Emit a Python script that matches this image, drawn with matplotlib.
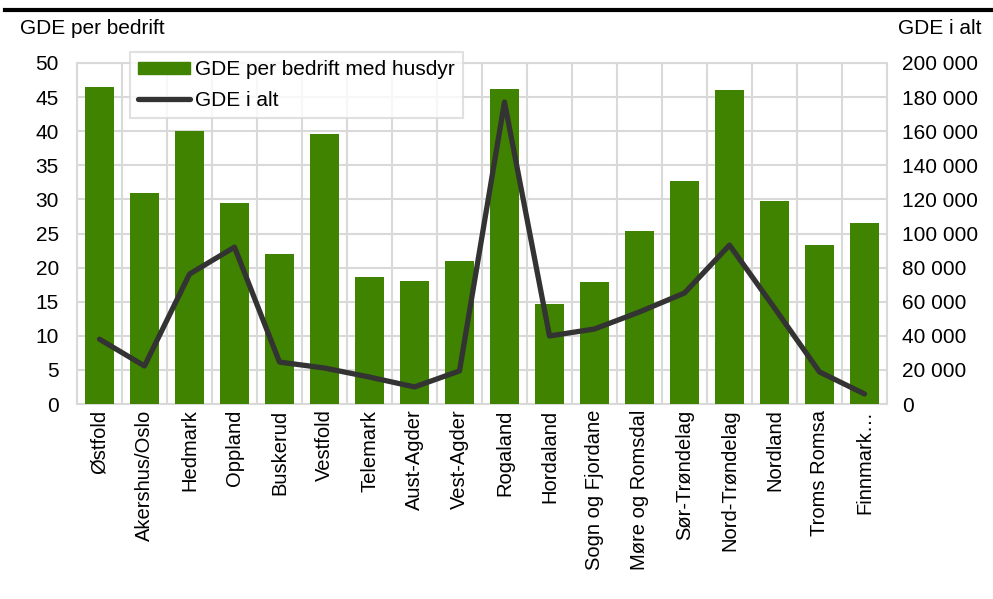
import matplotlib
matplotlib.use("Agg")
import matplotlib.pyplot as plt
from matplotlib.ticker import FuncFormatter
from matplotlib.lines import Line2D
from matplotlib.patches import Patch
import numpy as np

plt.rcParams['font.family'] = ['Liberation Sans', 'DejaVu Sans']

categories = ["Østfold", "Akershus/Oslo", "Hedmark", "Oppland", "Buskerud", "Vestfold",
              "Telemark", "Aust-Agder", "Vest-Agder", "Rogaland", "Hordaland",
              "Sogn og Fjordane", "Møre og Romsdal", "Sør-Trøndelag", "Nord-Trøndelag",
              "Nordland", "Troms Romsa", "Finnmark…"]
gde_per_bedrift = [46.5, 31.0, 40.1, 29.4, 22.0, 39.6, 18.6, 18.0, 21.0, 46.2, 14.7,
                   17.9, 25.3, 32.7, 46.0, 29.8, 23.3, 26.5]
gde_i_alt = [38000, 22300, 76200, 92000, 24600, 21100, 15800, 10000, 19400, 177100,
             39900, 44000, 54000, 65100, 93200, 56300, 18800, 5900]

green = "#3F8300"
dark = "#333333"
grid = "#D9D9D9"
fs = 15

fig = plt.figure(figsize=(9.93, 5.99), dpi=100)
ax = fig.add_axes([77/993, 1-404/599, 810/993, 341/599])
x = np.arange(len(categories))
ax.bar(x, gde_per_bedrift, width=0.66, color=green, zorder=3)
ax.set_xlim(-0.5, len(categories)-0.5)
ax.set_ylim(0, 50)
ax.set_yticks(np.arange(0, 51, 5))
ax.set_xticks(x)
ax.set_xticklabels(categories, rotation=90, fontsize=14.5)
ax.tick_params(axis='y', length=0, labelsize=fs, pad=13)
ax.tick_params(axis='x', length=0, pad=4)
for b in np.arange(-0.5, len(categories), 1.0):
    ax.axvline(b, color=grid, lw=1.5, zorder=1)
ax.yaxis.grid(True, color=grid, lw=1.5, zorder=1)
for s in ax.spines.values():
    s.set_color(grid)
    s.set_linewidth(1.5)

ax2 = ax.twinx()
ax2.plot(x, gde_i_alt, color=dark, lw=3.8, zorder=4, solid_capstyle='round')
ax2.set_ylim(0, 200000)
ax2.set_yticks(np.arange(0, 200001, 20000))
ax2.yaxis.set_major_formatter(FuncFormatter(lambda v, p: f"{int(v):,}".replace(",", " ")))
ax2.tick_params(axis='y', length=0, labelsize=fs, pad=11)
for s in ax2.spines.values():
    s.set_visible(False)

handles = [Patch(color=green), Line2D([0], [0], color=dark, lw=3.8, solid_capstyle='round')]
leg = fig.legend(handles, ["GDE per bedrift med husdyr", "GDE i alt"],
                 loc='upper left', bbox_to_anchor=(130/993, 1-52/599),
                 fontsize=fs, frameon=True, fancybox=False, handlelength=2.5,
                 handleheight=0.5, borderpad=0.4, labelspacing=0.55,
                 handletextpad=0.2, borderaxespad=0)
leg.get_frame().set_edgecolor(grid)
leg.get_frame().set_linewidth(1.5)

fig.text(20/993, 1-28/599, "GDE per bedrift", fontsize=fs, va='center', ha='left')
fig.text(982/993, 1-28/599, "GDE i alt", fontsize=fs, va='center', ha='right')
fig.add_artist(Line2D([5/993, 1], [1-10/599, 1-10/599], color='black', lw=3))

fig.savefig("out.png", dpi=100)
